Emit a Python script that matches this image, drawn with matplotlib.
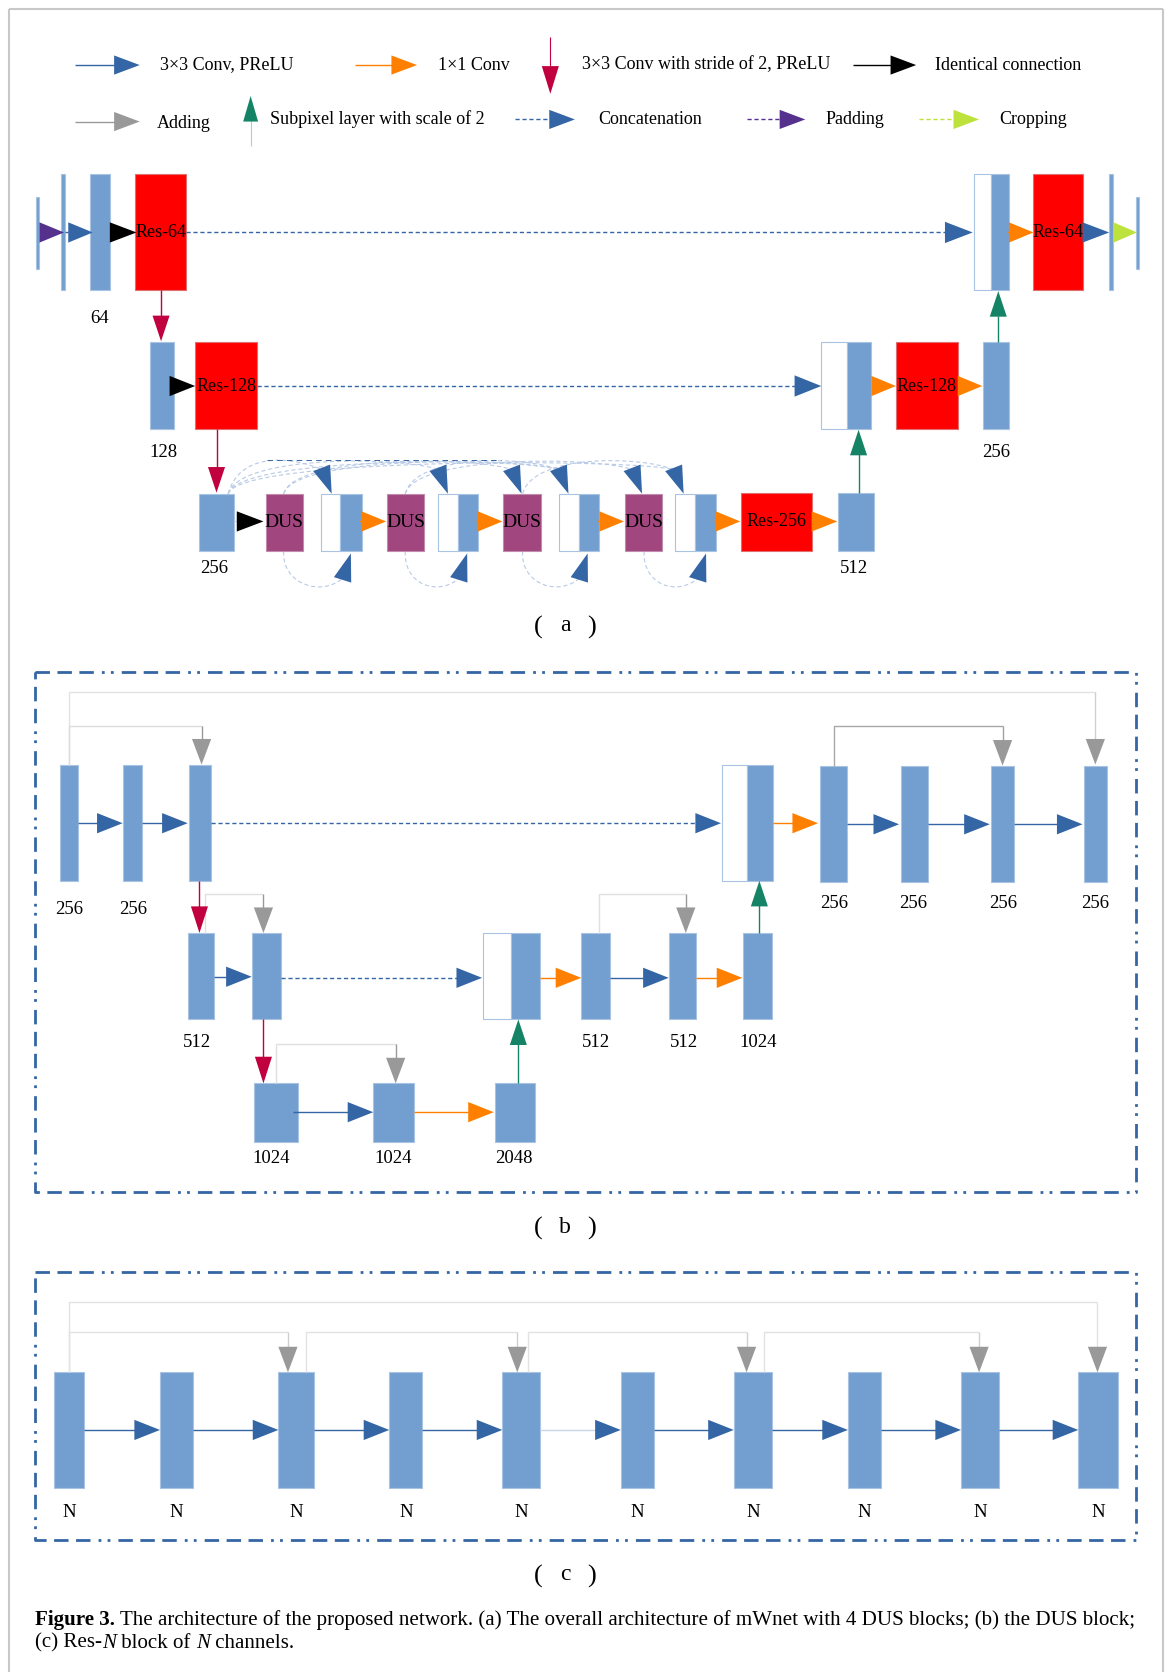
import matplotlib
matplotlib.use('Agg')
import matplotlib.pyplot as plt
from matplotlib.patches import Rectangle, Polygon, PathPatch
from matplotlib.path import Path
import numpy as np

plt.rcParams['font.family'] = ['Liberation Serif', 'DejaVu Serif']
plt.rcParams['lines.scale_dashes'] = False

# ---------------- texts / data ----------------
legend_row1 = ["3×3 Conv, PReLU", "1×1 Conv", "3×3 Conv with stride of 2, PReLU", "Identical connection"]
legend_row2 = ["Adding", "Subpixel layer with scale of 2", "Concatenation", "Padding", "Cropping"]
a_channel_labels = ["64", "128", "256", "256", "512"]
a_res_names = ["Res-64", "Res-128", "Res-64", "Res-128", "Res-256"]
dus_name = "DUS"
b_channel_labels = ["256", "256", "256", "256", "256", "256", "512", "512", "512", "1024", "1024", "1024", "2048"]
c_channel_labels = ["N"] * 10
panel_letters = ["a", "b", "c"]
caption_bold = "Figure 3."
caption_line1 = " The architecture of the proposed network. (a) The overall architecture of mWnet with 4 DUS blocks; (b) the DUS block;"
caption_line2 = [("(c) Res-", "normal"), ("N", "italic"), (" block of ", "normal"), ("N", "italic"), (" channels.", "normal")]

# ---------------- colours ----------------
BAR = '#729fcf'
BAR_EDGE = '#a9c3e3'
BLUE = '#3465a4'
ORANGE = '#ff8000'
CRIMSON = '#c1003f'
GREEN = '#158466'
GREYH = '#999999'
GREYL = '#dcdcdc'
RED = '#ff0000'
DUSC = '#a1467e'
PURPLE = '#55308d'
LGREEN = '#bde23c'
LIGHTDASH = '#b8cae6'

NUM_FS = 13.5

fig = plt.figure(figsize=(11.7, 16.72), dpi=100)
ax = fig.add_axes([0, 0, 1, 1])
ax.set_xlim(0, 1097)
ax.set_ylim(1568, 0)
ax.axis('off')


def rect(x0, x1, y0, y1, fc=BAR, ec=BAR_EDGE, lw=0.8, z=2):
    ax.add_patch(Rectangle((x0, y0), x1 - x0, y1 - y0, facecolor=fc, edgecolor=ec, linewidth=lw, zorder=z))


def concat(x0, xm, x1, y0, y1):
    rect(x0, xm, y0, y1, fc='white', ec=BAR_EDGE)
    rect(xm, x1, y0, y1, fc=BAR, ec=BAR_EDGE)


def head(tip, d, color, L=24, W=19, z=5):
    tip = np.array(tip, float)
    d = np.array(d, float)
    d = d / np.linalg.norm(d)
    n = np.array([-d[1], d[0]])
    base = tip - L * d
    pts = [tip, base + W / 2 * n, base - W / 2 * n]
    ax.add_patch(Polygon(pts, closed=True, facecolor=color, edgecolor='none', zorder=z))


def line(xs, ys, color, lw=1.0, dashed=False, z=3, dash=(3.0, 2.0)):
    kw = {}
    if dashed:
        kw['linestyle'] = (0, dash)
    ax.plot(xs, ys, color=color, lw=lw, zorder=z, solid_capstyle='butt', dash_capstyle='butt', **kw)


def harrow(x0, x1, y, color, dashed=False, L=24, W=19, lw=1.0, lcolor=None):
    if x1 - L > x0:
        line([x0, x1 - L + 1], [y, y], lcolor or color, lw=lw, dashed=dashed)
    head((x1, y), (1, 0), color, L=L, W=W)


def varrow(x, y0, y1, color, L=24, W=16, lw=1.0, lcolor=None):
    s = 1 if y1 > y0 else -1
    if abs(y1 - y0) > L:
        line([x, x], [y0, y1 - s * (L - 1)], lcolor or color, lw=lw)
    head((x, y1), (0, s), color, L=L, W=W)


def skip(x_src, y_src, y_top, x_dst, y_dst, color_line=GREYL, color_drop=GREYH, L=24, W=18):
    line([x_src, x_src, x_dst], [y_src, y_top, y_top], color_line, lw=1.0)
    line([x_dst, x_dst], [y_top, y_dst - L + 1], color_drop, lw=1.0)
    head((x_dst, y_dst), (0, 1), GREYH, L=L, W=W)


def txt(x, y, s, size=NUM_FS, **kw):
    ax.text(x, y, s, fontsize=size, ha=kw.pop('ha', 'center'), va=kw.pop('va', 'center'), zorder=6, **kw)


def frame(x0, y0, x1, y1):
    pat = (0, (10.4, 5.4, 10.4, 5.4, 10.4, 5.8, 2.0, 4.5, 2.0, 5.8))
    ax.plot([x0, x1, x1, x0, x0], [y0, y0, y1, y1, y0], color=BLUE, lw=2.0, linestyle=pat,
            dash_capstyle='butt', zorder=3)


def curve(p0, c1, c2, p1, color=LIGHTDASH, lw=0.8):
    path = Path([p0, c1, c2, p1], [Path.MOVETO, Path.CURVE4, Path.CURVE4, Path.CURVE4])
    ax.add_patch(PathPatch(path, facecolor='none', edgecolor=color, lw=lw, linestyle=(0, (3, 2)), zorder=1))


# ---------------- outer grey border ----------------
line([8, 8], [8, 1568], '#c8c8c8', lw=1.5)
line([8, 1090], [8, 8], '#c8c8c8', lw=1.5)
line([1090, 1090], [8, 1568], '#c8c8c8', lw=1.5)

# ---------------- legend ----------------
LS = 13
y1 = 61
harrow(70, 131, y1, BLUE, W=18)
txt(150, y1, legend_row1[0], LS, ha='left')
harrow(333, 391, y1, ORANGE, W=18)
txt(411, y1, legend_row1[1], LS, ha='left')
varrow(516, 35, 88, CRIMSON, L=26, W=16, lw=0.8)
txt(546, y1, legend_row1[2], LS, ha='left')
harrow(800, 859, y1, 'black', W=18)
txt(877, y1, legend_row1[3], LS, ha='left')

y2 = 114
harrow(70, 131, y2, GREYH, W=18)
txt(147, y2 + 2, legend_row2[0], LS, ha='left')
line([235, 235], [137, 112], '#b0d0c4', lw=0.8)
head((235, 90), (0, -1), GREEN, L=24, W=14)
txt(253, y2 - 2, legend_row2[1], LS, ha='left')
harrow(483, 539, y2 - 2, BLUE, dashed=True, W=18)
txt(561, y2 - 2, legend_row2[2], LS, ha='left')
harrow(700, 755, y2 - 2, PURPLE, dashed=True, W=18)
txt(774, y2 - 2, legend_row2[3], LS, ha='left')
harrow(862, 918, y2 - 2, LGREEN, dashed=True, W=18)
txt(937, y2 - 2, legend_row2[4], LS, ha='left')

# ---------------- panel (a) ----------------
ya = 218
rect(34, 37, 185, 252)
head((60, ya), (1, 0), PURPLE, L=23, W=19)
rect(57, 61, 163, 272)
line([61, 64], [ya, ya], BLUE)
head((87, ya), (1, 0), BLUE, L=23, W=19)
rect(84, 103, 163, 272)
head((128, ya), (1, 0), 'black', L=25, W=19)
rect(127, 174, 163, 272, fc=RED, ec='#e07070')
txt(151, ya, a_res_names[0], 13)
harrow(174, 912, ya, BLUE, dashed=True, L=26, W=20)
concat(913, 929, 946, 163, 272)
line([944, 947], [ya, ya], ORANGE)
head((969, ya), (1, 0), ORANGE, L=23, W=19)
rect(969, 1015, 163, 272, fc=RED, ec='#e07070')
txt(992, ya, a_res_names[2], 13)
head((1040, ya), (1, 0), BLUE, L=25, W=19)
rect(1040, 1044, 163, 272)
head((1066, ya), (1, 0), LGREEN, L=22, W=19)
rect(1065, 1068, 185, 252)
txt(93, 299, a_channel_labels[0])
varrow(151, 272, 320, CRIMSON, L=24, W=16)

yb = 362
rect(141, 163, 321, 402)
head((183, yb), (1, 0), 'black', L=24, W=19)
rect(183, 241, 321, 402, fc=RED, ec='#e07070')
txt(212, yb, a_res_names[1], 13)
harrow(241, 770, yb, BLUE, dashed=True, L=25, W=20)
concat(770, 794, 817, 321, 402)
head((840, yb), (1, 0), ORANGE, L=23, W=19)
rect(840, 898, 321, 402, fc=RED, ec='#e07070')
txt(869, yb, a_res_names[3], 13)
head((921, yb), (1, 0), ORANGE, L=23, W=19)
rect(922, 946, 321, 402)
txt(153, 424, a_channel_labels[1])
txt(934, 424, a_channel_labels[3])
varrow(936, 321, 273, GREEN, L=24, W=16)
varrow(203, 402, 462, CRIMSON, L=24, W=16)

yc = 489
# dense-connection curves (drawn first, behind)
up_tips = [(311, 463), (420, 463), (489, 463), (533, 463), (602, 463), (641, 463)]
up_dir = (0.36, 0.93)
up_srcs = [(214, 463), (214, 463), (266, 463), (214, 463), (380, 463), (214, 463), (266, 463), (380, 463), (490, 463)]
up_dst = [0, 1, 2, 3, 4, 5, 3, 3, 5]
udn = np.array(up_dir) / np.linalg.norm(up_dir)
for s, k in zip(up_srcs, up_dst):
    tip = np.array(up_tips[k], float)
    base = tip - 24 * udn
    peak = 424 + 0.01 * (base[0] - s[0])
    c1 = (s[0] + 10, peak)
    c2 = (base[0] - 18 * udn[0] - 25, peak + 2)
    curve(s, c1, c2, tuple(base))
line([250, 470], [431, 431], BLUE, lw=0.7, dashed=True, z=1, dash=(4, 3))
low_tips = [(329, 519), (438, 519), (551, 519), (662, 519)]
low_srcs = [(266, 517), (380, 517), (490, 517), (604, 517)]
ldn = np.array((0.3, -0.95)) / np.linalg.norm((0.3, -0.95))
for s, t in zip(low_srcs, low_tips):
    base = np.array(t, float) - 24 * ldn
    curve(s, (s[0] - 2, 548), (base[0] - 20, 560), tuple(base))

for tip in up_tips:
    head(tip, up_dir, BLUE, L=26, W=17)
for tip in low_tips:
    head(tip, (0.3, -0.95), BLUE, L=26, W=17)

rect(187, 219, 463, 517)
line([219, 223], [yc, yc], GREYL)
head((247, yc), (1, 0), 'black', L=25, W=19)
dus_x = [(249, 284), (363, 398), (472, 507), (586, 621)]
cat_x = [(301, 319, 339), (411, 429, 448), (524, 543, 562), (633, 652, 671)]
for (d0, d1), (c0, cm, c1) in zip(dus_x, cat_x):
    rect(d0, d1, 463, 517, fc=DUSC, ec='#c08cae')
    txt((d0 + d1) / 2, yc + 1, dus_name, 14)
    concat(c0, cm, c1, 463, 517)
    line([c1 - 2, c1 + 1], [yc, yc], ORANGE)
    head((c1 + 23, yc), (1, 0), ORANGE, L=23, W=19)
rect(695, 761, 462, 517, fc=RED, ec='#e07070')
txt(728, yc, a_res_names[4], 13)
head((785, yc), (1, 0), ORANGE, L=24, W=19)
rect(786, 819, 462, 517)
txt(201, 533, a_channel_labels[2])
txt(801, 533, a_channel_labels[4])
varrow(805, 462, 403, GREEN, L=24, W=16)


# panel letters
def panel_label(y, letter):
    txt(505, y, "(", 19)
    txt(530, y - 1, letter, 17)
    txt(555, y, ")", 19)


panel_label(588, panel_letters[0])

# ---------------- panel (b) ----------------
frame(33, 630, 1065, 1118)
yt = 772
line([65, 65, 1027], [717, 649, 649], '#e2e2e2', lw=1.0)
line([1027, 1027], [649, 694], '#d0d0d0', lw=1.0)
head((1027, 717), (0, 1), GREYH, L=24, W=18)
skip(65, 717, 681, 189, 717)
skip(782, 718, 681, 940, 718, color_line='#a8a8a8', color_drop='#a0a0a0')

rect(56, 73, 717, 826)
rect(115, 133, 717, 826)
rect(177, 198, 717, 826)
harrow(73, 115, yt, BLUE)
harrow(133, 176, yt, BLUE)
harrow(198, 676, yt, BLUE, dashed=True)
concat(677, 700, 725, 717, 826)
harrow(725, 767, yt, ORANGE)
for x0, x1 in [(769, 794), (845, 870), (929, 951), (1016, 1038)]:
    rect(x0, x1, 718, 827)
harrow(794, 843, yt + 1, BLUE)
harrow(870, 928, yt + 1, BLUE)
harrow(951, 1015, yt + 1, BLUE)
txt(65, 853, b_channel_labels[0])
txt(125, 853, b_channel_labels[1])
for x, lab in zip([782, 856, 941, 1027], b_channel_labels[2:6]):
    txt(x, 847, lab)

y2b = 917
varrow(187, 826, 875, CRIMSON, L=25, W=16)
skip(192, 875, 838, 247, 875, color_line='#e0e0e0')
rect(176, 201, 875, 956)
rect(236, 263, 875, 956)
harrow(201, 236, 916, BLUE)
harrow(263, 452, y2b, BLUE, dashed=True)
concat(453, 479, 506, 875, 956)
harrow(506, 545, y2b, ORANGE)
rect(545, 572, 875, 956)
skip(562, 875, 838, 643, 875, color_line='#e0e0e0')
harrow(572, 627, y2b, BLUE)
rect(627, 653, 875, 956)
harrow(653, 696, y2b, ORANGE)
rect(697, 724, 875, 956)
varrow(712, 875, 826, GREEN, L=24, W=16)
for x, lab in zip([185, 559, 641, 711], b_channel_labels[6:10]):
    txt(x, 978, lab)

y3b = 1043
varrow(247, 956, 1016, CRIMSON, L=25, W=16)
skip(259, 1016, 979, 371, 1016, color_line='#e0e0e0')
rect(238, 279, 1016, 1071)
rect(350, 388, 1016, 1071)
rect(464, 502, 1016, 1071)
line([275, 327], [y3b, y3b], BLUE, z=6)
head((350, y3b), (1, 0), BLUE)
harrow(388, 463, y3b, ORANGE)
varrow(486, 1016, 956, GREEN, L=24, W=16)
for x, lab in zip([254, 369, 482], b_channel_labels[10:13]):
    txt(x, 1086, lab)

panel_label(1152, panel_letters[1])

# ---------------- panel (c) ----------------
frame(33, 1193, 1065, 1444)
c_bars = [(51, 79), (150, 181), (261, 294), (365, 396), (471, 506),
          (582, 613), (688, 724), (795, 826), (901, 937), (1011, 1048)]
line([65, 65, 1029], [1287, 1221, 1221], '#e2e2e2')
line([1029, 1029], [1221, 1264], '#e2e2e2')
head((1029, 1287), (0, 1), GREYH, L=24, W=18)
for xs, xd in [(65, 270), (287, 485), (495, 700), (716, 918)]:
    skip(xs, 1287, 1249, xd, 1287, color_line='#e2e2e2', color_drop='#cfcfcf')
for (x0, x1) in c_bars:
    rect(x0, x1, 1287, 1395)
for i in range(len(c_bars) - 1):
    lc = '#c9d6ea' if i == 4 else BLUE
    harrow(c_bars[i][1], c_bars[i + 1][0], 1341, BLUE, lcolor=lc)
for (x0, x1), lab in zip(c_bars, c_channel_labels):
    txt((x0 + x1) / 2, 1418, lab)

panel_label(1478, panel_letters[2])

# ---------------- caption ----------------
fig.canvas.draw()
renderer = fig.canvas.get_renderer()
inv = ax.transData.inverted()


def width_of(t):
    bb = t.get_window_extent(renderer=renderer)
    p0 = inv.transform((bb.x0, bb.y0))
    p1 = inv.transform((bb.x1, bb.y0))
    return p1[0] - p0[0]


base_fs = 12.0
t1 = ax.text(0, -100, caption_bold, fontsize=base_fs, fontweight='bold')
t2 = ax.text(0, -100, caption_line1, fontsize=base_fs)
wtot = width_of(t1) + width_of(t2)
t1.remove()
t2.remove()
fs = base_fs * (1030.0 / wtot)

x = 33
tb = ax.text(x, 1519, caption_bold, fontsize=fs, fontweight='bold', va='center', ha='left')
x += width_of(tb)
ax.text(x, 1519, caption_line1, fontsize=fs, va='center', ha='left')
x = 33
for s, style in caption_line2:
    t = ax.text(x, 1541, s, fontsize=fs, style=style, va='center', ha='left')
    x += width_of(t)

fig.savefig('out.png', dpi=100)
